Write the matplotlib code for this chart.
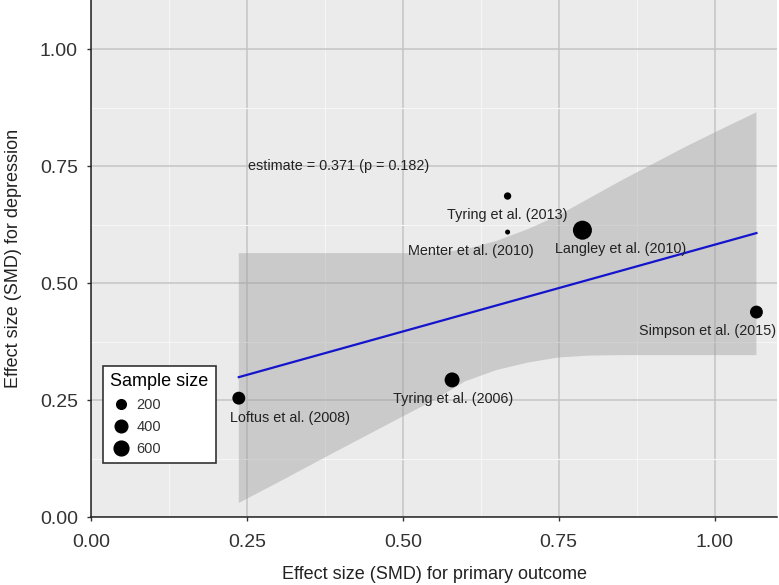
import numpy as np
import matplotlib
matplotlib.use("Agg")
import matplotlib.pyplot as plt
from matplotlib.lines import Line2D

plt.rcParams['font.family'] = ['Liberation Sans', 'DejaVu Sans']

# study data
studies = ["Loftus et al. (2008)", "Tyring et al. (2006)", "Simpson et al. (2015)",
           "Langley et al. (2010)", "Tyring et al. (2013)", "Menter et al. (2010)"]
smd_primary = [0.237, 0.579, 1.067, 0.788, 0.668, 0.668]
smd_depression = [0.254, 0.293, 0.438, 0.613, 0.686, 0.609]
sample_size = [420, 620, 420, 1150, 110, 80]

# meta-regression fit and its confidence band
slope = 0.371
intercept = 0.211
p_value = 0.182
band_x = [0.237, 0.30, 0.40, 0.50, 0.55, 0.60, 0.65, 0.70, 0.75, 0.80, 0.85, 0.90, 0.95, 1.00, 1.067]
band_lower = [0.030, 0.074, 0.145, 0.215, 0.250, 0.290, 0.314, 0.330, 0.341, 0.345, 0.346, 0.346, 0.346, 0.346, 0.346]
band_upper = [0.564, 0.564, 0.564, 0.564, 0.564, 0.572, 0.590, 0.615, 0.645, 0.682, 0.719, 0.754, 0.789, 0.822, 0.865]

legend_sizes = [200, 400, 600]

# label offsets (points) relative to each study point
label_offsets = [(36.7, -14.4), (0.7, -13.7), (-35.3, -13.7), (27.4, -13.7), (0, -13.7), (-26.6, -13.7)]

n_min, n_max = min(sample_size), max(sample_size)


def marker_diam(n):
    # ggplot-like area scaling, diameter in points
    f = (n - n_min) / (n_max - n_min)
    return 3.6 + (13.7 - 3.6) * np.sqrt(f)


fig = plt.figure(figsize=(7.79, 5.85), dpi=100)
ax = fig.add_axes([91 / 779, 68 / 585, 686 / 779, 517 / 585])
ax.set_facecolor('#EBEBEB')

ax.set_xlim(0, 1.1)
ax.set_ylim(0, 1.105)
ticks = [0.0, 0.25, 0.5, 0.75, 1.0]
ax.set_xticks(ticks)
ax.set_yticks(ticks)
ax.set_xticklabels([f"{t:.2f}" for t in ticks])
ax.set_yticklabels([f"{t:.2f}" for t in ticks])
ax.set_xticks([0.125, 0.375, 0.625, 0.875], minor=True)
ax.set_yticks([0.125, 0.375, 0.625, 0.875], minor=True)

ax.grid(True, which='major', color='#C4C4C4', linewidth=1.1, zorder=0)
ax.grid(True, which='minor', color='#F6F6F6', linewidth=0.8, zorder=0)
ax.set_axisbelow(True)

for side in ['top', 'right']:
    ax.spines[side].set_visible(False)
for side in ['left', 'bottom']:
    ax.spines[side].set_color('#222222')
    ax.spines[side].set_linewidth(1.1)

ax.tick_params(which='major', length=3, width=1.0, color='#333333',
               labelsize=14, labelcolor='#333333')
ax.tick_params(axis='x', which='major', pad=9)
ax.tick_params(axis='y', which='major', pad=6.5)
ax.tick_params(which='minor', length=0)

# confidence band
ax.fill_between(band_x, band_lower, band_upper, facecolor='#999999', alpha=0.4,
                linewidth=0, zorder=2)

# regression line
xs = np.array([min(smd_primary), max(smd_primary)])
ax.plot(xs, intercept + slope * xs, color='#1414CC', linewidth=1.6, zorder=3)

# study points
sizes = [marker_diam(n) ** 2 for n in sample_size]
ax.scatter(smd_primary, smd_depression, s=sizes, color='black', zorder=4, linewidths=0)

for name, x, y, off in zip(studies, smd_primary, smd_depression, label_offsets):
    ax.annotate(name, (x, y), xytext=off, textcoords='offset points',
                ha='center', va='center', fontsize=10.4, color='#222222', zorder=5)

ax.text(0.252, 0.75, f"estimate = {slope:.3f} (p = {p_value:.3f})", ha='left', va='center',
        fontsize=10.4, color='#222222', zorder=5)

ax.set_xlabel('Effect size (SMD) for primary outcome', fontsize=13, color='#222222', labelpad=11)
ax.set_ylabel('Effect size (SMD) for depression', fontsize=13, color='#222222', labelpad=12.5)

handles = [Line2D([], [], marker='o', linestyle='', color='black',
                  markersize=marker_diam(n)) for n in legend_sizes]
leg = ax.legend(handles, [str(n) for n in legend_sizes], title='Sample size',
                loc='lower left', bbox_to_anchor=(0.0175, 0.104), borderaxespad=0,
                frameon=True, fontsize=10.5, title_fontsize=13, handletextpad=0.4,
                borderpad=0.5, labelspacing=0.55, handlelength=1.4,
                fancybox=False, framealpha=1)
leg.get_frame().set_edgecolor('#333333')
leg.get_frame().set_linewidth(1.2)
leg._legend_box.align = 'left'
for t in leg.get_texts():
    t.set_color('#333333')

fig.savefig('out.png', dpi=100)
